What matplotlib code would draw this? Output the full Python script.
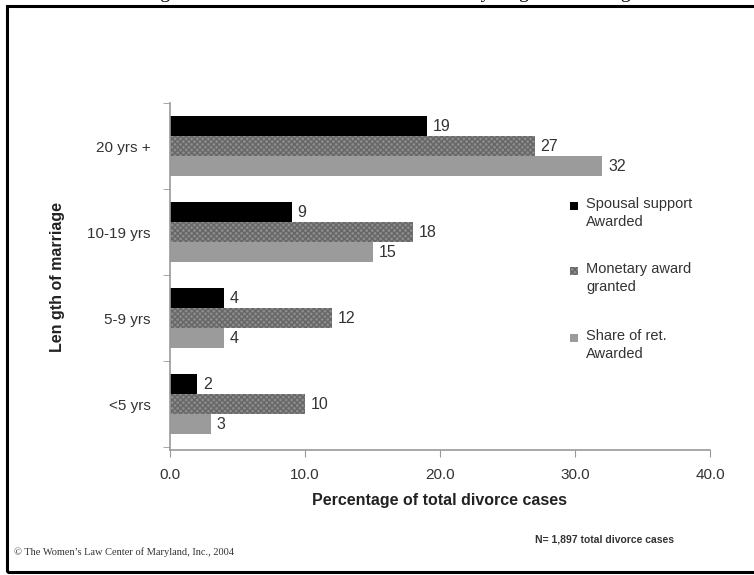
import matplotlib.pyplot as plt
import numpy as np
from matplotlib.patches import Rectangle

plt.rcParams['font.family'] = ['Liberation Sans', 'DejaVu Sans']

categories = ['<5 yrs', '5-9 yrs', '10-19 yrs', '20 yrs +']
spousal = [2, 4, 9, 19]
monetary = [10, 12, 18, 27]
share_ret = [3, 4, 15, 32]
series_names = ['Spousal support\nAwarded', 'Monetary award\ngranted',
                'Share of ret.\nAwarded']
xticks = [0, 10, 20, 30, 40]

W, H = 754, 575
fig = plt.figure(figsize=(W / 100, H / 100), dpi=100)

# Page frame and the caption above it, cut by the page top
fig.add_artist(Rectangle((7 / W, 1 - 572 / H), 760 / W, 566 / H,
                         transform=fig.transFigure, fill=False,
                         ec='black', lw=2.2))
fig.text(0.52, 1 + 2.2 / H,
         'Figure 4 \u2014 Factors in total divorce cases by length of marriage',
         ha='center', va='baseline', fontsize=14, family='Liberation Serif')

ax = fig.add_axes([170 / W, 1 - 450 / H, 540 / W, 347 / H])
y = np.arange(len(categories))
bh = 0.232
gap_txt = 0.45
text_col = '#333333'

bars = [
    (spousal, +bh, dict(color='black')),
    (monetary, 0.0, dict(color='#8c8c8c', hatch='xxxxxx', edgecolor='#666666',
                         linewidth=0)),
    (share_ret, -bh, dict(color='#9b9b9b')),
]
for vals, off, style in bars:
    ax.barh(y + off, vals, height=bh, **style)
    for yi, v in zip(y, vals):
        ax.text(v + gap_txt, yi + off, f'{v}', va='center', ha='left',
                fontsize=11.5, color=text_col)

ax.set_xlim(0, 40)
ax.set_ylim(-0.53, 3.5)
ax.set_xticks(xticks)
ax.set_xticklabels([f'{t:.1f}' for t in xticks], fontsize=11, color=text_col)
ax.set_yticks(y)
ax.set_yticklabels(categories, fontsize=11, color=text_col)
ax.set_yticks(np.arange(-0.5, 3.6, 1), minor=True)
ax.tick_params(axis='y', which='major', length=0, pad=14)
ax.tick_params(axis='y', which='minor', length=5, color='#999999',
               direction='out')
ax.tick_params(axis='x', length=5, color='#999999', direction='out', pad=8)
for s in ['top', 'right']:
    ax.spines[s].set_visible(False)
for s in ['left', 'bottom']:
    ax.spines[s].set_color('#999999')
    ax.spines[s].set_linewidth(1.2)

ax.set_xlabel('Percentage of total divorce cases', fontsize=11.5,
              fontweight='bold', color='#222222', labelpad=8)
ax.set_ylabel('Len gth of marriage', fontsize=11.5, fontweight='bold',
              color='#222222', labelpad=16)

# Legend drawn as separate blocks with square markers
legend_colors = [('black', None), ('#8c8c8c', 'xxxxxx'), ('#9b9b9b', None)]
legend_y = [206, 271, 338]
for (col, hatch), name, ly in zip(legend_colors, series_names, legend_y):
    fig.add_artist(Rectangle((570 / W, 1 - (ly + 4) / H), 8 / W, 8 / H,
                             transform=fig.transFigure, facecolor=col,
                             hatch=hatch, edgecolor='#666666' if hatch else col,
                             lw=0))
    fig.text(586 / W, 1 - (ly - 9) / H, name, ha='left', va='top',
             fontsize=10.5, color=text_col, linespacing=1.35)

fig.text(14 / W, 1 - 552 / H,
         '\u00a9 The Women\u2019s Law Center of Maryland, Inc., 2004',
         fontsize=7.5, family='Liberation Serif', va='center', color='#333333')
fig.text(535 / W, 1 - 540 / H, 'N= 1,897 total divorce cases', fontsize=7.5,
         fontweight='bold', va='center', color='#333333')

fig.savefig('out.png', dpi=100)
